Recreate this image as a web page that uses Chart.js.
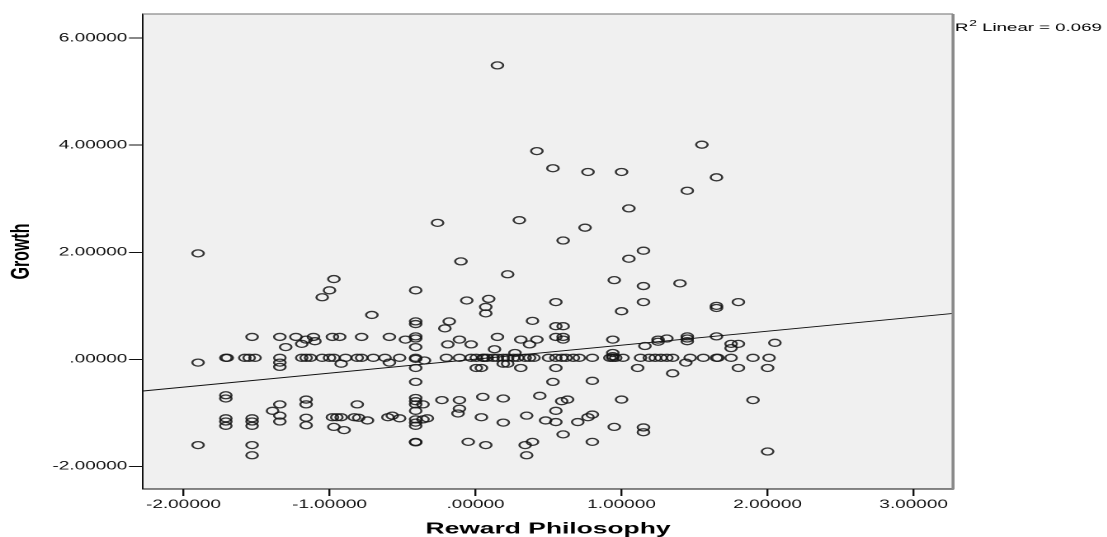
<!DOCTYPE html>
<html>
<head>
<meta charset="utf-8">
<script src="https://cdn.jsdelivr.net/npm/chart.js@4.4.1/dist/chart.umd.min.js"></script>
<style>
  html, body { margin: 0; padding: 0; background: #fff; overflow: hidden; }
  /* the original SPSS picture is stretched horizontally, so the chart is too */
  #contenedor { position: absolute; left: 0; top: 0; width: 671px; height: 537px;
                transform: scaleX(1.65); transform-origin: 0 0; }
</style>
</head>
<body>
<div id="contenedor"><canvas id="lienzo" width="671" height="537"></canvas></div>
<script>
// Datos
const rewardPhilosophy = [
  -1.90, -1.90, -1.90, -1.71, -1.70, -1.71, -1.71, -1.71, -1.71, -1.71,
  -1.53, -1.58, -1.55, -1.51, -1.53, -1.53, -1.53, -1.53, -1.53,
  -1.34, -1.30, -1.34, -1.34, -1.34, -1.34, -1.39, -1.34, -1.34,
  -1.23, -1.11, -1.16, -1.10, -1.19, -1.19, -1.16, -1.13, -1.16, -1.16, -1.16, -1.16,
  -1.05, -1.00, -0.97, -0.98, -0.93, -0.97, -1.00, -1.05, -0.92, -0.98, -0.95, -0.92, -0.97, -0.90,
  -0.89, -0.81, -0.78, -0.70, -0.78, -0.71, -0.81, -0.83, -0.80, -0.74,
  -0.62, -0.52, -0.59, -0.48, -0.59, -0.60, -0.57, -0.52,
  -0.41, -0.41, -0.41, -0.41, -0.41, -0.41, -0.41, -0.41, -0.41, -0.41,
  -0.41, -0.41, -0.41, -0.41, -0.41, -0.41, -0.41, -0.41, -0.41,
  -0.35, -0.36, -0.36, -0.33,
  -0.26, -0.10, -0.06, -0.18, -0.21, -0.19, -0.11, -0.03, -0.20, -0.11, -0.03, 0.005, 0.05, 0.005,
  -0.23, -0.11, -0.11, -0.12, 0.05, 0.04, -0.05, 0.07,
  0.15, 0.22, 0.09, 0.07, 0.07, 0.15, 0.13, 0.27, 0.31, 0.42, 0.37, 0.39, 0.30, 0.42,
  0.06, 0.08, 0.12, 0.15, 0.19, 0.22, 0.26, 0.29, 0.34, 0.37, 0.40,
  0.04, 0.19, 0.22, 0.31, 0.19, 0.44, 0.19, 0.35, 0.34, 0.39, 0.35,
  0.53, 0.77, 0.60, 0.75, 0.55, 0.55, 0.60, 0.55, 0.60, 0.60,
  0.50, 0.55, 0.59, 0.62, 0.67, 0.71, 0.80,
  0.55, 0.53, 0.80, 0.59, 0.63, 0.55, 0.48, 0.55, 0.70, 0.77, 0.80, 0.60, 0.80,
  1.00, 1.05, 1.15, 1.05, 0.95, 1.15, 1.15, 1.00, 0.94, 0.94, 0.94,
  0.92, 0.94, 0.96, 1.01, 1.13, 1.11, 1.00, 0.95, 1.15, 1.15, 1.16,
  1.40, 1.55, 1.65, 1.45, 1.65, 1.65, 1.25, 1.31, 1.25, 1.45, 1.45, 1.45, 1.65,
  1.19, 1.23, 1.27, 1.31, 1.35, 1.47, 1.56, 1.65, 1.66, 1.35, 1.44,
  1.80, 1.75, 1.80, 1.75, 2.05, 1.75, 1.90, 2.01, 1.80, 2.00, 1.90, 2.00
];
const growth = [
  1.98, -0.06, -1.60, 0.03, 0.03, -0.67, -0.73, -1.10, -1.16, -1.24,
  0.42, 0.03, 0.03, 0.03, -1.10, -1.16, -1.24, -1.60, -1.79,
  0.42, 0.23, 0.03, -0.06, -0.14, -0.84, -0.96, -1.05, -1.16,
  0.42, 0.42, 0.37, 0.34, 0.29, 0.03, 0.03, 0.03, -0.75, -0.84, -1.09, -1.23,
  0.03, 0.03, 0.03, 0.42, 0.42, 1.50, 1.29, 1.16, -0.08, -1.08, -1.08, -1.08, -1.26, -1.32,
  0.03, 0.03, 0.03, 0.03, 0.42, 0.83, -0.84, -1.08, -1.09, -1.14,
  0.03, 0.03, 0.42, 0.37, -0.06, -1.08, -1.05, -1.10,
  1.29, 0.71, 0.66, 0.43, 0.39, 0.23, 0.03, 0.01, -0.16, -0.42,
  -0.72, -0.78, -0.84, -0.96, -1.12, -1.18, -1.24, -1.54, -1.55,
  -0.02, -0.84, -1.12, -1.10,
  2.55, 1.83, 1.10, 0.71, 0.58, 0.28, 0.37, 0.28, 0.03, 0.03, 0.03, 0.03, 0.03, -0.16,
  -0.76, -0.76, -0.92, -1.01, -0.70, -1.08, -1.54, -1.60,
  5.49, 1.59, 1.13, 0.98, 0.86, 0.42, 0.19, 0.12, 0.37, 0.37, 0.28, 0.72, 2.60, 3.89,
  0.03, 0.03, 0.03, 0.03, 0.03, 0.03, 0.03, 0.03, 0.03, 0.03, 0.03,
  -0.16, -0.08, -0.08, -0.16, -0.73, -0.68, -1.18, -1.05, -1.60, -1.54, -1.79,
  3.57, 3.50, 2.22, 2.46, 1.07, 0.62, 0.62, 0.42, 0.42, 0.37,
  0.03, 0.03, 0.03, 0.03, 0.03, 0.03, 0.03,
  -0.16, -0.42, -0.40, -0.78, -0.75, -0.96, -1.14, -1.17, -1.17, -1.08, -1.03, -1.40, -1.54,
  3.50, 2.82, 2.03, 1.88, 1.48, 1.37, 1.07, 0.90, 0.37, 0.12, 0.06,
  0.03, 0.03, 0.03, 0.03, 0.03, -0.16, -0.75, -1.26, -1.27, -1.36, 0.25,
  1.42, 4.01, 3.40, 3.15, 1.00, 0.96, 0.37, 0.39, 0.33, 0.43, 0.39, 0.34, 0.43,
  0.03, 0.03, 0.03, 0.03, 0.03, 0.03, 0.03, 0.03, 0.03, -0.26, -0.06,
  1.07, 0.29, 0.29, 0.21, 0.31, 0.03, 0.03, 0.03, -0.16, -0.16, -0.76, -1.72
];

// Recta de regresión
const ajusteOrdenada = 0.005;
const ajustePendiente = 0.261;
const etiquetaR2 = ['R', '2', ' Linear = 0.069'];

// Ejes
const xMin = -2.277, xMax = 3.27;
const yMin = -2.42, yMax = 6.45;
const xTickValues = [-2, -1, 0, 1, 2, 3];
const xTickLabels = ['-2.00000', '-1.00000', '.00000', '1.00000', '2.00000', '3.00000'];
const yTickValues = [-2, 0, 2, 4, 6];
const yTickLabels = ['-2.00000', '.00000', '2.00000', '4.00000', '6.00000'];

const fuente = "'Liberation Sans', Arial, sans-serif";

const puntos = rewardPhilosophy.map((x, i) => ({ x: x, y: growth[i] }));
const recta = [xMin, xMax].map(x => ({ x: x, y: ajusteOrdenada + ajustePendiente * x }));

// Fondo gris del área, marco superior/derecho y etiqueta R2
const marcoGrafico = {
  id: 'marcoGrafico',
  beforeDraw(chart) {
    const c = chart.ctx, a = chart.chartArea;
    c.save();
    c.fillStyle = '#f0f0f0';
    c.fillRect(a.left, a.top, a.right - a.left, a.bottom - a.top);
    c.restore();
  },
  afterDraw(chart) {
    const c = chart.ctx, a = chart.chartArea;
    c.save();
    c.strokeStyle = '#8a8a8a';
    c.lineWidth = 1.2;
    c.beginPath(); c.moveTo(a.left, a.top); c.lineTo(a.right, a.top); c.stroke();
    c.lineWidth = 1.8;
    c.beginPath(); c.moveTo(a.right, a.top); c.lineTo(a.right, a.bottom); c.stroke();

    c.fillStyle = '#000';
    c.textBaseline = 'alphabetic';
    let x = a.right + 1.2;
    c.font = '11.3px ' + fuente;
    c.fillText(etiquetaR2[0], x, 31);
    x += c.measureText(etiquetaR2[0]).width + 0.4;
    c.font = '8.5px ' + fuente;
    c.fillText(etiquetaR2[1], x, 26);
    x += c.measureText(etiquetaR2[1]).width;
    c.font = '11.3px ' + fuente;
    c.fillText(etiquetaR2[2], x, 31);
    c.restore();
  }
};

function etiqueta(valores, textos) {
  return function (v) {
    const i = valores.findIndex(t => Math.abs(t - v) < 1e-6);
    return i >= 0 ? textos[i] : '';
  };
}

const ctx = document.getElementById('lienzo').getContext('2d');

const myChart = new Chart(ctx, {
  type: 'scatter',
  data: {
    datasets: [
      {
        label: 'Growth',
        data: puntos,
        pointStyle: 'circle',
        pointRadius: 3.5,
        pointBorderWidth: 1.3,
        borderColor: 'rgba(20, 20, 20, 0.85)',
        backgroundColor: 'rgba(0, 0, 0, 0)'
      },
      {
        label: 'Linear',
        data: recta,
        showLine: true,
        borderColor: '#111',
        borderWidth: 1,
        pointRadius: 0,
        fill: false
      }
    ]
  },
  options: {
    responsive: false,
    animation: false,
    devicePixelRatio: 2,
    events: [],
    layout: { padding: { left: 0, right: 93.4, top: 14, bottom: 0 } },
    plugins: {
      legend: { display: false },
      tooltip: { enabled: false }
    },
    scales: {
      x: {
        type: 'linear',
        min: xMin,
        max: xMax,
        afterFit(s) { s.height = 48; },
        afterBuildTicks(s) { s.ticks = xTickValues.map(v => ({ value: v })); },
        border: { display: true, color: '#111', width: 1 },
        grid: { display: true, drawOnChartArea: false, drawTicks: true, tickLength: 7, color: '#111', lineWidth: 1.2 },
        ticks: {
          color: '#111', padding: 2, maxRotation: 0, autoSkip: false,
          font: { family: fuente, size: 11.5 },
          callback: etiqueta(xTickValues, xTickLabels)
        },
        title: {
          display: true, text: 'Reward Philosophy', color: '#000', padding: 0,
          font: { family: fuente, size: 16, weight: 'bold', lineHeight: 1 }
        }
      },
      y: {
        type: 'linear',
        min: yMin,
        max: yMax,
        afterFit(s) { s.width = 86.67; },
        afterBuildTicks(s) { s.ticks = yTickValues.map(v => ({ value: v })); },
        border: { display: true, color: '#111', width: 1 },
        grid: { display: true, drawOnChartArea: false, drawTicks: true, tickLength: 8.5, color: '#111', lineWidth: 1 },
        ticks: {
          color: '#111', padding: 1, autoSkip: false,
          font: { family: fuente, size: 11.5 },
          callback: etiqueta(yTickValues, yTickLabels)
        },
        title: {
          display: true, text: 'Growth', color: '#000', padding: { top: 5, bottom: 0 },
          font: { family: fuente, size: 16, weight: 'bold', lineHeight: 1 }
        }
      }
    }
  },
  plugins: [marcoGrafico]
});
</script>
</body>
</html>
